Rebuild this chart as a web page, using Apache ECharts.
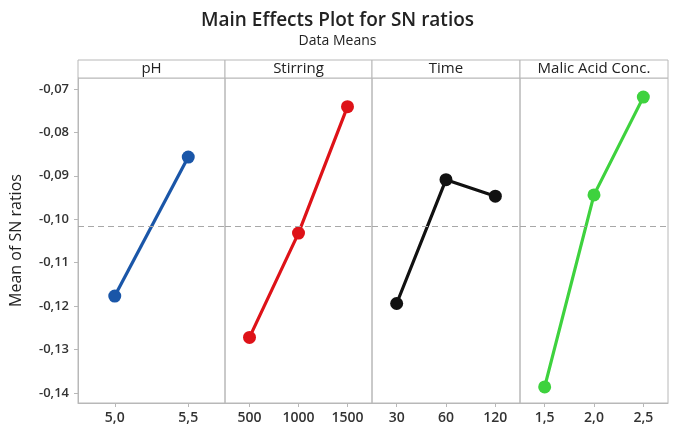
<!DOCTYPE html>
<html>
<head>
<meta charset="utf-8">
<script src="https://cdn.jsdelivr.net/npm/echarts@6/dist/echarts.min.js"></script>
<style>
  html, body { margin: 0; padding: 0; background: #fff; }
  #chart { width: 675px; height: 439px; }
</style>
</head>
<body>
<div id="chart"></div>
<script>
  // factor levels and mean SN ratio per level
  var phLevels = ['5,0', '5,5'];
  var phMeans = [-0.1177, -0.0857];
  var stirLevels = ['500', '1000', '1500'];
  var stirMeans = [-0.1272, -0.1032, -0.0741];
  var timeLevels = ['30', '60', '120'];
  var timeMeans = [-0.1194, -0.0909, -0.0947];
  var acidLevels = ['1,5', '2,0', '2,5'];
  var acidMeans = [-0.1386, -0.0944, -0.0719];
  var grandMean = -0.1016;
  var yTicks = [-0.14, -0.13, -0.12, -0.11, -0.10, -0.09, -0.08, -0.07];

  var panels = [
    { name: 'pH', levels: phLevels, data: phMeans, color: '#1a56a8', left: 78, width: 147 },
    { name: 'Stirring', levels: stirLevels, data: stirMeans, color: '#de1218', left: 225, width: 147 },
    { name: 'Time', levels: timeLevels, data: timeMeans, color: '#111111', left: 372, width: 148 },
    { name: 'Malic Acid Conc.', levels: acidLevels, data: acidMeans, color: '#3ed23e', left: 520, width: 148 }
  ];

  var font = '"Open Sans", "Noto Sans", sans-serif';
  var yMin = -0.1423, yMax = -0.0675;

  var grids = [], xAxes = [], yAxes = [], series = [], graphics = [];

  panels.forEach(function (p, i) {
    grids.push({
      left: p.left, width: p.width, top: 78, bottom: 36,
      show: true, borderColor: '#b8b8b8', borderWidth: 1
    });
    xAxes.push({
      type: 'category', gridIndex: i, data: p.levels, boundaryGap: true,
      axisLine: { show: true, lineStyle: { color: '#b8b8b8' } },
      axisTick: { show: true, alignWithLabel: true, length: 4, lineStyle: { color: '#b8b8b8' } },
      axisLabel: { color: '#333', fontSize: 14, fontFamily: font, fontWeight: 600, margin: 8 }
    });
    yAxes.push({
      type: 'value', gridIndex: i, min: yMin, max: yMax,
      show: i === 0,
      name: i === 0 ? 'Mean of SN ratios' : '',
      nameLocation: 'middle', nameGap: 54, nameRotate: 90,
      nameTextStyle: { color: '#222', fontSize: 16, fontFamily: font, fontWeight: 500 },
      splitLine: { show: false },
      axisLine: { show: true, lineStyle: { color: '#b8b8b8' } },
      axisTick: { show: true, length: 4, customValues: yTicks, lineStyle: { color: '#b8b8b8' } },
      axisLabel: {
        color: '#333', fontSize: 13, fontFamily: font, fontWeight: 600, margin: 9,
        customValues: yTicks,
        formatter: function (v) { return v.toFixed(2).replace('.', ','); }
      }
    });
    series.push({
      type: 'line', xAxisIndex: i, yAxisIndex: i, data: p.data,
      symbol: 'circle', symbolSize: 13,
      itemStyle: { color: p.color },
      lineStyle: { color: p.color, width: 3.2 },
      markLine: {
        silent: true, symbol: 'none', label: { show: false }, precision: 4,
        lineStyle: { color: '#a8a8a8', type: [6, 4], width: 1.2 },
        data: [{ yAxis: grandMean }]
      },
      z: 3
    });
    // strip header above each panel
    graphics.push({
      type: 'rect',
      shape: { x: p.left, y: 60, width: p.width, height: 18 },
      style: { fill: '#fff', stroke: '#b8b8b8', lineWidth: 1 }
    });
    graphics.push({
      type: 'text',
      x: p.left + p.width / 2, y: 69,
      style: {
        text: p.name, fill: '#222', fontSize: 15, fontFamily: font, fontWeight: 500,
        align: 'center', verticalAlign: 'middle'
      }
    });
  });

  var myChart = echarts.init(document.getElementById('chart'));
  myChart.setOption({
    animation: false,
    backgroundColor: '#fff',
    title: {
      text: 'Main Effects Plot for SN ratios',
      subtext: 'Data Means',
      left: 'center', top: 6, itemGap: 4,
      textStyle: { color: '#222', fontSize: 19, fontWeight: 600, fontFamily: font },
      subtextStyle: { color: '#222', fontSize: 14, fontFamily: font, fontWeight: 500 }
    },
    grid: grids,
    xAxis: xAxes,
    yAxis: yAxes,
    series: series,
    graphic: graphics
  });
</script>
</body>
</html>
